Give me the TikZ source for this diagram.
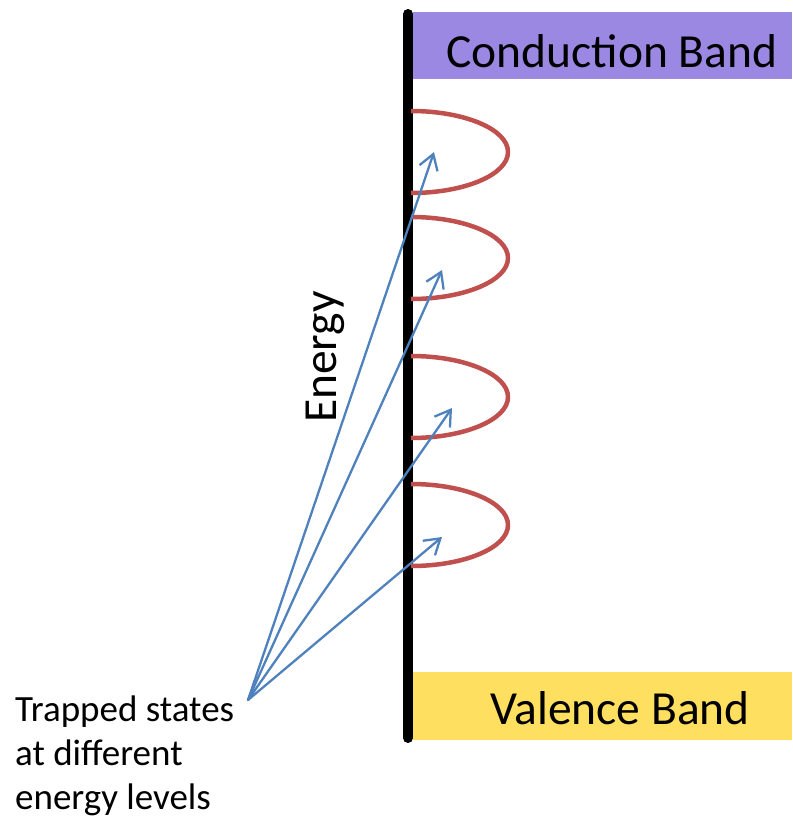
\documentclass[tikz,border=0pt]{standalone}
\usepackage{fontspec}
\setmainfont{Carlito}
\usetikzlibrary{arrows.meta}
\definecolor{cbandcol}{RGB}{155,136,226}
\definecolor{vbandcol}{RGB}{255,223,95}
\definecolor{trapcol}{RGB}{192,80,77}
\definecolor{arrcol}{RGB}{79,129,189}

\begin{document}
\begin{tikzpicture}[x=1pt,y=-1pt,line cap=round,line join=round,
    every node/.style={inner sep=0pt},
    bigtext/.style={font=\fontsize{47.5}{57}\selectfont},
    trap/.style={draw=trapcol,line width=4.5pt,line cap=butt},
    pointer/.style={draw=arrcol,line width=2.3pt,-{Straight Barb[length=15pt,width=19pt,line width=2.3pt]}}]
  \useasboundingbox (0,0) rectangle (792,816);
  % bands
  \fill[cbandcol] (413,12) rectangle (792,79);
  \fill[vbandcol] (413,672) rectangle (792,740);
  \node[bigtext] (cband) at (612,51) {Conduction Band};
  \node[bigtext] (vband) at (620,708) {Valence Band};
  % energy axis
  \draw[line width=10pt] (408,14) -- (408,738);
  \node[bigtext,rotate=90,anchor=base] (energy) at (336,357) {Energy};
  % trapped states
  \foreach \c in {152,258,397,525}
    \draw[trap] (411,{\c+41}) arc[start angle=90,end angle=-90,x radius=97,y radius=41];
  \node[font=\fontsize{37}{44}\selectfont,align=left,anchor=north west] (label) at (15,696) {Trapped states\\at different\\energy levels};
  \coordinate (src) at (248,700);
  \coordinate (t1) at (434,152);
  \coordinate (t2) at (442,270);
  \coordinate (t3) at (452,408);
  \coordinate (t4) at (442,537);
  \foreach \t in {t1,t2,t3,t4}
    \draw[pointer] (src) -- (\t);
\end{tikzpicture}
\end{document}
